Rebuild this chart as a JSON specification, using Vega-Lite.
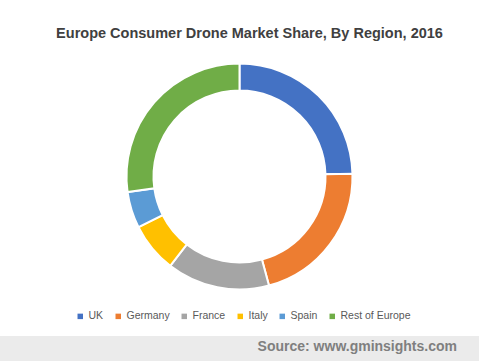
{
  "$schema": "https://vega.github.io/schema/vega-lite/v6.json",
  "padding": {"left": 0, "right": 0, "top": 25, "bottom": 0},
  "background": "white",
  "title": {
    "text": "Europe Consumer Drone Market Share, By Region, 2016",
    "font": "Liberation Sans",
    "fontSize": 14.5,
    "fontWeight": "bold",
    "color": "#404040",
    "anchor": "middle",
    "dx": 10,
    "offset": 8
  },
  "bounds": "flush",
  "spacing": 32,
  "config": {"view": {"stroke": null}},
  "vconcat": [
    {
      "width": 479,
      "height": 255,
      "data": {
        "values": [
          {"region": "UK", "share": 24.6, "idx": 1},
          {"region": "Germany", "share": 21.2, "idx": 2},
          {"region": "France", "share": 14.7, "idx": 3},
          {"region": "Italy", "share": 7.1, "idx": 4},
          {"region": "Spain", "share": 5.2, "idx": 5},
          {"region": "Rest of Europe", "share": 27.2, "idx": 6}
        ]
      },
      "mark": {"type": "arc", "outerRadius": 113, "innerRadius": 86, "stroke": "white", "strokeWidth": 2},
      "encoding": {
        "theta": {"field": "share", "type": "quantitative", "stack": true},
        "order": {"field": "idx", "type": "quantitative"},
        "color": {
          "field": "region",
          "type": "nominal",
          "scale": {
            "domain": ["UK", "Germany", "France", "Italy", "Spain", "Rest of Europe"],
            "range": ["#4472C4", "#ED7D31", "#A5A5A5", "#FFC000", "#5B9BD5", "#70AD47"]
          },
          "legend": {
            "title": null,
            "orient": "none",
            "legendX": 75,
            "legendY": 262,
            "direction": "horizontal",
            "columns": 6,
            "padding": 0,
            "symbolType": "square",
            "symbolSize": 30,
            "symbolStrokeWidth": 0,
            "labelFont": "Liberation Sans",
            "labelFontSize": 10.5,
            "labelColor": "#595959",
            "labelOffset": 3,
            "columnPadding": 9
          }
        }
      }
    },
    {
      "width": 479,
      "height": 25,
      "view": {"fill": "#EBEBEB", "stroke": null},
      "data": {"values": [{"source": "Source: www.gminsights.com"}]},
      "mark": {
        "type": "text",
        "align": "right",
        "baseline": "middle",
        "font": "Liberation Sans",
        "fontSize": 14,
        "fontWeight": "bold",
        "color": "#7F7F7F",
        "x": 457,
        "y": 11
      },
      "encoding": {"text": {"field": "source", "type": "nominal"}}
    }
  ]
}
